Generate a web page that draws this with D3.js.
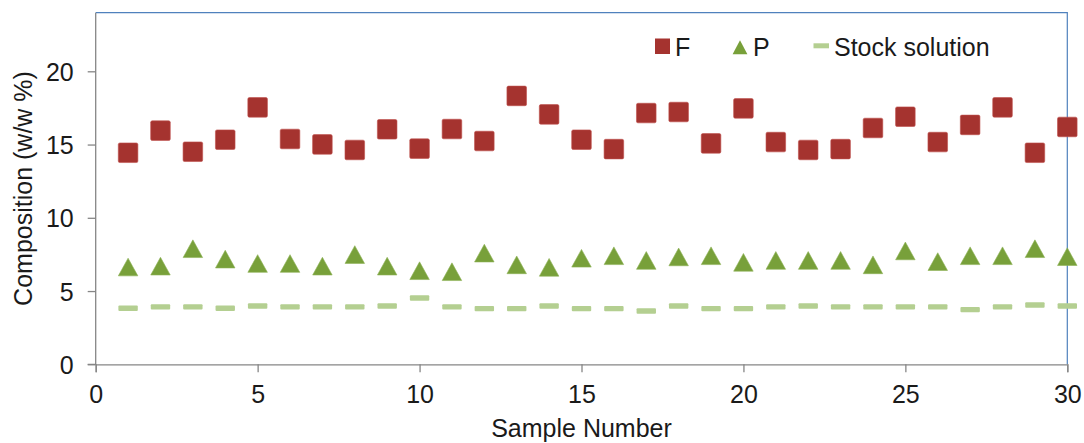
<!DOCTYPE html>
<html>
<head>
<meta charset="utf-8">
<script src="https://cdn.jsdelivr.net/npm/d3@7"></script>
<style>
  html, body { margin: 0; padding: 0; background: #fff; }
  svg { display: block; font-family: "Liberation Sans", Arial, sans-serif; }
</style>
</head>
<body>
<svg id="chart" width="1084" height="443"></svg>
<script>
const samples = d3.range(1, 31);
const seriesF = [14.44, 15.95, 14.51, 15.33, 17.54, 15.38, 15.01, 14.63, 16.04, 14.72,
                 16.06, 15.24, 18.32, 17.06, 15.33, 14.69, 17.15, 17.22, 15.08, 17.47,
                 15.17, 14.63, 14.69, 16.13, 16.90, 15.17, 16.34, 17.54, 14.44, 16.20];
const seriesP = [6.64, 6.70, 7.89, 7.18, 6.88, 6.88, 6.70, 7.49, 6.70, 6.39,
                 6.32, 7.59, 6.79, 6.62, 7.24, 7.41, 7.09, 7.33, 7.41, 6.96,
                 7.09, 7.09, 7.09, 6.79, 7.74, 7.01, 7.41, 7.41, 7.89, 7.35];
const seriesStock = [3.83, 3.92, 3.92, 3.83, 3.98, 3.92, 3.92, 3.92, 3.98, 4.53,
                     3.92, 3.80, 3.80, 3.98, 3.80, 3.80, 3.64, 3.98, 3.80, 3.80,
                     3.92, 3.98, 3.92, 3.92, 3.92, 3.92, 3.73, 3.92, 4.05, 3.98];
const xTicks = [0, 5, 10, 15, 20, 25, 30];
const yTicks = [0, 5, 10, 15, 20];
const legendLabels = ["F", "P", "Stock solution"];

const svg = d3.select("#chart");
const L = 95.7, R = 1067.3, T = 12.7, B = 364.3;
const x = d3.scaleLinear().domain([0, 30]).range([L, R]);
const y = d3.scaleLinear().domain([0, 24]).range([B, T]);

const textColor = "#1a1a1a";
const axisColor = "#868686";
const colF = "#a5332f", colP = "#78a03a", colS = "#b4cf91";

// plot border (blue top/right)
svg.append("path")
  .attr("d", `M${L},${T}H${R}V${B}`)
  .attr("fill", "none").attr("stroke", "#4f81bd").attr("stroke-width", 1.2);

// axes
const yAxis = d3.axisLeft(y).tickValues(yTicks).tickSize(8).tickPadding(14).tickFormat(d3.format("d"));
const xAxis = d3.axisBottom(x).tickValues(xTicks).tickSize(8).tickPadding(13).tickFormat(d3.format("d"));

const gy = svg.append("g").attr("transform", `translate(${L},0)`).call(yAxis);
const gx = svg.append("g").attr("transform", `translate(0,${B})`).call(xAxis);
[gx, gy].forEach(g => {
  g.select(".domain").attr("stroke", axisColor).attr("stroke-width", 1.3);
  g.selectAll(".tick line").attr("stroke", axisColor).attr("stroke-width", 1.3);
  g.selectAll(".tick text").attr("fill", textColor).attr("font-size", 25)
    .attr("font-family", "Liberation Sans, Arial, sans-serif");
});
gy.select(".domain").attr("d", `M-8,${B}H0V${T}`);
gy.selectAll(".tick text").attr("dy", "0.36em");

// axis titles
svg.append("text")
  .attr("x", (L + R) / 2).attr("y", 437)
  .attr("text-anchor", "middle").attr("font-size", 25).attr("fill", textColor)
  .text("Sample Number");
svg.append("text")
  .attr("transform", `translate(32,${(T + B) / 2}) rotate(-90)`)
  .attr("text-anchor", "middle").attr("font-size", 25).attr("fill", textColor)
  .text("Composition (w/w %)");

// markers
const tri = (cx, cy, w, h) => `M${cx - w / 2},${cy + h / 2}L${cx},${cy - h / 2}L${cx + w / 2},${cy + h / 2}Z`;

svg.append("g").selectAll("rect.s")
  .data(samples.map((s, i) => [s, seriesStock[i]]))
  .join("rect")
  .attr("x", d => x(d[0]) - 9.7).attr("y", d => y(d[1]) - 2.7)
  .attr("width", 19.4).attr("height", 5.4).attr("rx", 1)
  .attr("fill", colS);

svg.append("g").selectAll("path.p")
  .data(samples.map((s, i) => [s, seriesP[i]]))
  .join("path")
  .attr("d", d => tri(x(d[0]), y(d[1]), 19.5, 17.7))
  .attr("fill", colP).attr("stroke", "#8db255").attr("stroke-width", 0.6);

svg.append("g").selectAll("rect.f")
  .data(samples.map((s, i) => [s, seriesF[i]]))
  .join("rect")
  .attr("x", d => x(d[0]) - 9.8).attr("y", d => y(d[1]) - 9.8)
  .attr("width", 19.6).attr("height", 19.6).attr("rx", 1.5)
  .attr("fill", colF).attr("stroke", "#c0504d").attr("stroke-width", 0.6);

// legend
const lg = svg.append("g");
lg.append("rect").attr("x", 655).attr("y", 38.5).attr("width", 15).attr("height", 15.5)
  .attr("fill", colF);
lg.append("text").attr("x", 675).attr("y", 56).attr("font-size", 25).attr("fill", textColor).text(legendLabels[0]);
lg.append("path").attr("d", tri(740, 47.3, 14.8, 14)).attr("fill", colP);
lg.append("text").attr("x", 753).attr("y", 56).attr("font-size", 25).attr("fill", textColor).text(legendLabels[1]);
lg.append("rect").attr("x", 813.5).attr("y", 43.3).attr("width", 15.5).attr("height", 5).attr("fill", colS);
lg.append("text").attr("x", 834).attr("y", 56).attr("font-size", 25).attr("fill", textColor).text(legendLabels[2]);
</script>
</body>
</html>
